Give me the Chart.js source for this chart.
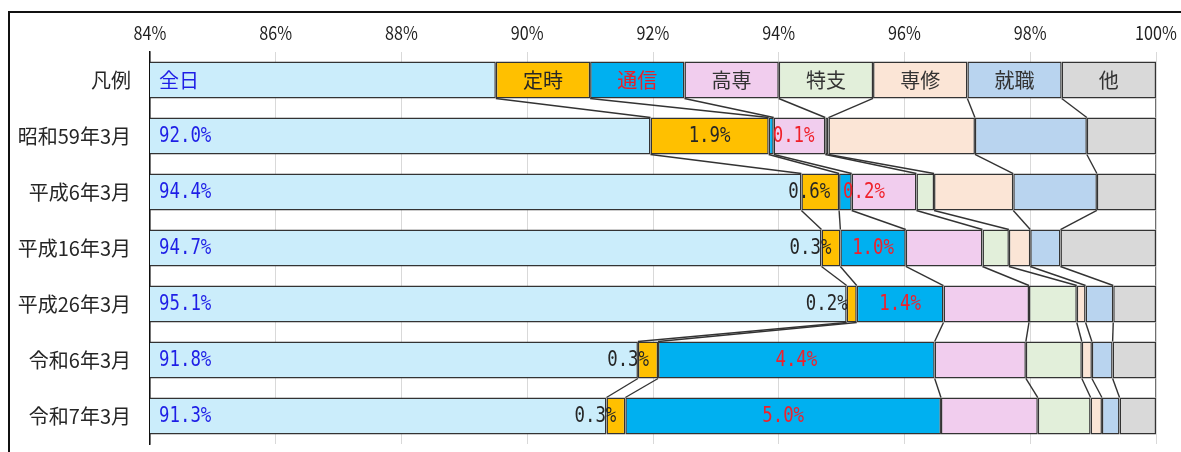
<!DOCTYPE html>
<html>
<head>
<meta charset="utf-8">
<script src="https://cdn.jsdelivr.net/npm/chart.js@4"></script>
<style>
  body { margin: 0; background: #fff; }
</style>
</head>
<body>
<canvas id="myCanvas" width="1181" height="452"></canvas>
<script>
// rows (top row is the legend row)
var categories = ['凡例', '昭和59年3月', '平成6年3月', '平成16年3月', '平成26年3月', '令和6年3月', '令和7年3月'];
var seriesNames = ['全日', '定時', '通信', '高専', '特支', '専修', '就職', '他'];

// shares in %
var zennichi = [89.5, 91.96, 94.36, 94.68, 95.08, 91.76, 91.26];
var teiji    = [1.5, 1.88, 0.60, 0.30, 0.16, 0.32, 0.30];
var tsushin  = [1.5, 0.08, 0.20, 1.04, 1.38, 4.40, 5.02];
var kosen    = [1.5, 0.82, 1.03, 1.22, 1.36, 1.45, 1.54];
var tokushi  = [1.5, 0.05, 0.28, 0.42, 0.76, 0.89, 0.84];
var senshu   = [1.5, 2.33, 1.26, 0.34, 0.14, 0.16, 0.18];
var shushoku = [1.5, 1.78, 1.33, 0.48, 0.44, 0.33, 0.28];
var other    = [1.5, 1.10, 0.94, 1.52, 0.68, 0.69, 0.58];

var xMin = 84, xMax = 100, xStep = 2;

var colors = ['#CBEDFB', '#FFC000', '#00B0F0', '#F1CDEE', '#E2EFDA', '#FBE5D6', '#B9D4EF', '#D9D9D9'];
var legendTextColors = ['#1E1EE6', '#262626', '#E8202A', '#333333', '#333333', '#333333', '#333333', '#333333'];
var BLUE = '#1E1EE6', RED = '#F0202A', DARK = '#262626';

var JP = '"Noto Sans CJK JP", "Noto Sans", sans-serif';
var NUM = '22px "DejaVu Sans Mono", monospace';

function drawText(ctx, text, x, y, align, color, font, sx) {
  ctx.save();
  ctx.font = font;
  ctx.fillStyle = color;
  ctx.textBaseline = 'middle';
  ctx.textAlign = align;
  ctx.translate(x, y);
  ctx.scale(sx, 1);
  ctx.fillText(text, 0, 0);
  ctx.restore();
}
function textWidth(ctx, text, font, sx) {
  ctx.save();
  ctx.font = font;
  var w = ctx.measureText(text).width * sx;
  ctx.restore();
  return w;
}

var framePlugin = {
  id: 'frame',
  beforeDraw: function(chart) {
    var ctx = chart.ctx;
    ctx.save();
    ctx.strokeStyle = '#111';
    ctx.lineWidth = 2;
    ctx.strokeRect(9, 12, 1400, 700);
    ctx.restore();
  },
  afterDraw: function(chart) {
    // x tick labels, a bit condensed like the original
    var xs = chart.scales.x;
    xs.ticks.forEach(function(t) {
      drawText(chart.ctx, t.value + '%', xs.getPixelForValue(t.value), 33, 'center', '#1f1f1f', '19px ' + JP, 0.85);
    });
  }
};

// Excel style series lines + labels
var seriesLinesPlugin = {
  id: 'seriesLines',
  afterDatasetsDraw: function(chart) {
    var ctx = chart.ctx, a = chart.chartArea;
    ctx.save();
    ctx.beginPath();
    ctx.rect(a.left, a.top, a.right - a.left, a.bottom - a.top + 1);
    ctx.clip();
    ctx.strokeStyle = '#333';
    ctx.lineWidth = 1.4;
    chart.data.datasets.forEach(function(ds, d) {
      var els = chart.getDatasetMeta(d).data;
      for (var i = 0; i < els.length - 1; i++) {
        var p = els[i], q = els[i + 1];
        ctx.beginPath();
        ctx.moveTo(p.x, p.y + p.height / 2);
        ctx.lineTo(q.x, q.y - q.height / 2);
        ctx.stroke();
      }
    });
    ctx.restore();

    // legend row texts
    chart.data.datasets.forEach(function(ds, d) {
      var el = chart.getDatasetMeta(d).data[0];
      var left = Math.max(el.base, a.left);
      var font = '20px ' + JP;
      if (d === 0) drawText(ctx, seriesNames[d], left + 9, el.y, 'left', legendTextColors[d], font, 1);
      else drawText(ctx, seriesNames[d], (left + el.x) / 2, el.y, 'center', legendTextColors[d], font, 1);
    });

    // value labels for 全日, 定時, 通信
    var sx = 0.79;
    for (var i = 1; i < categories.length; i++) {
      var e0 = chart.getDatasetMeta(0).data[i];
      drawText(ctx, zennichi[i].toFixed(1) + '%', a.left + 9, e0.y, 'left', BLUE, NUM, sx);

      var e1 = chart.getDatasetMeta(1).data[i];
      var t1 = teiji[i].toFixed(1) + '%';
      var w1 = textWidth(ctx, t1, NUM, sx);
      if (w1 + 6 < e1.x - e1.base) drawText(ctx, t1, (e1.x + e1.base) / 2, e1.y, 'center', DARK, NUM, sx);
      else drawText(ctx, t1, e1.x - 9, e1.y, 'right', DARK, NUM, sx);

      var e2 = chart.getDatasetMeta(2).data[i];
      var t2 = tsushin[i].toFixed(1) + '%';
      var w2 = textWidth(ctx, t2, NUM, sx);
      if (w2 + 6 < e2.x - e2.base) drawText(ctx, t2, (e2.x + e2.base) / 2, e2.y, 'center', RED, NUM, sx);
      else drawText(ctx, t2, e2.base + 4, e2.y, 'left', RED, NUM, sx);
    }
  }
};

var seriesData = [zennichi, teiji, tsushin, kosen, tokushi, senshu, shushoku, other];

var ctx = document.getElementById('myCanvas').getContext('2d');
var chart = new Chart(ctx, {
  type: 'bar',
  data: {
    labels: categories,
    datasets: seriesData.map(function(vals, k) {
      return {
        label: seriesNames[k],
        data: vals,
        backgroundColor: colors[k],
        borderColor: '#333',
        borderWidth: 1.5,
        borderSkipped: false,
        barPercentage: 0.66,
        categoryPercentage: 1
      };
    })
  },
  options: {
    indexAxis: 'y',
    responsive: false,
    animation: false,
    layout: { padding: { top: 0, right: 25, bottom: 8, left: 0 } },
    plugins: { legend: { display: false }, tooltip: { enabled: false } },
    scales: {
      x: {
        position: 'top',
        stacked: true,
        min: xMin,
        max: xMax,
        afterFit: function(s) {
          s.height = 52;
          s.paddingLeft = 0; s.paddingRight = 0;
        },
        ticks: { stepSize: xStep, display: false },
        grid: { color: '#D9D9D9', lineWidth: 1, drawTicks: false },
        border: { display: false }
      },
      y: {
        stacked: true,
        afterFit: function(s) {
          s.width = 150;
          s.paddingTop = 0; s.paddingBottom = 0;
        },
        ticks: {
          padding: 19,
          color: '#262626',
          font: { family: JP, size: 20 }
        },
        grid: { display: false, drawTicks: false },
        border: { display: true, color: '#111', width: 1.5 }
      }
    }
  },
  plugins: [framePlugin, seriesLinesPlugin]
});
</script>
</body>
</html>
